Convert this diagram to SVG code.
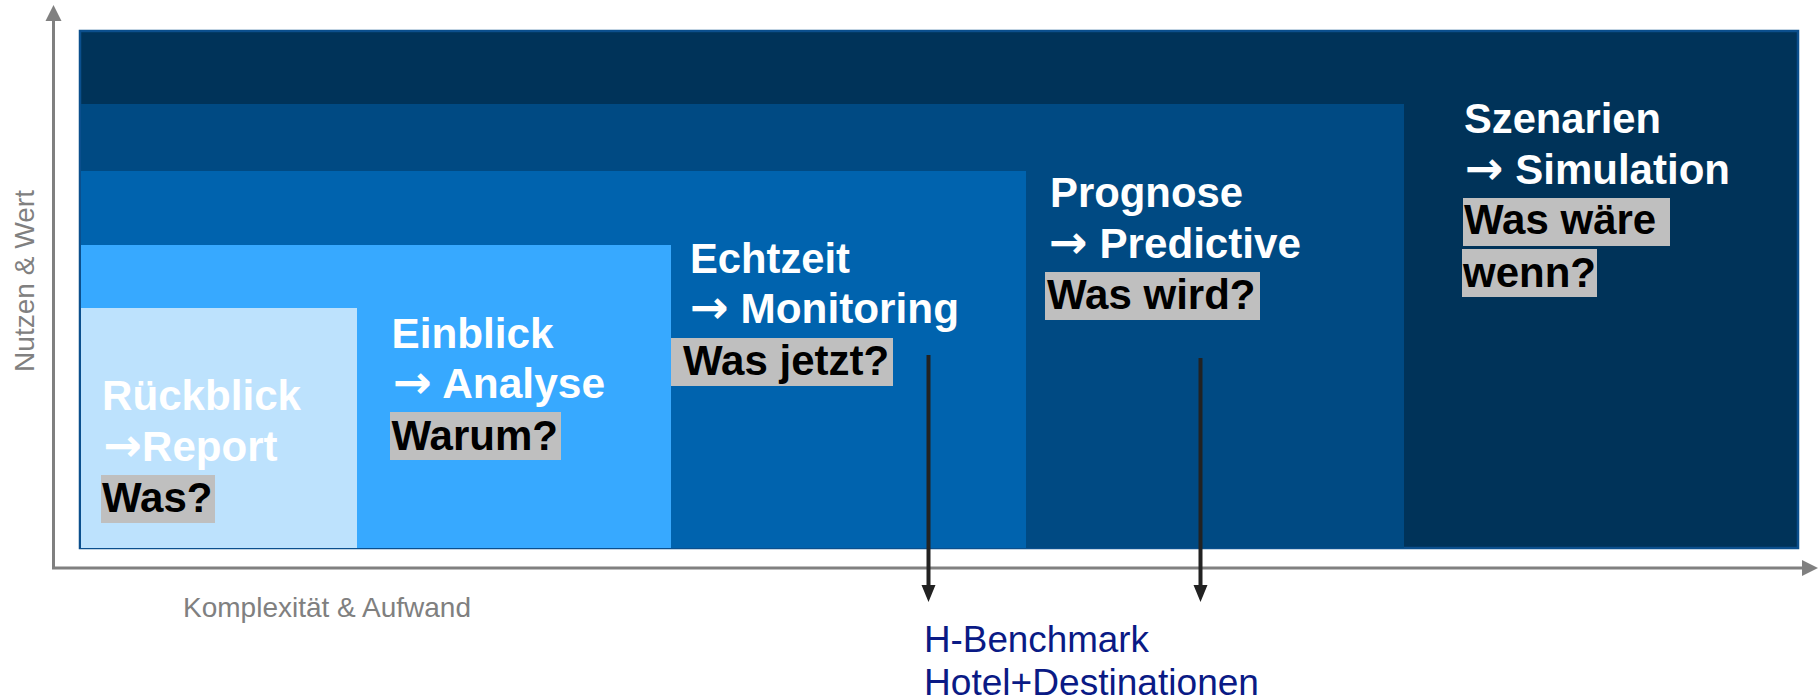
<svg xmlns="http://www.w3.org/2000/svg" width="1818" height="699" viewBox="0 0 1818 699">
<defs>
<style>
.w{font-family:"Liberation Sans",Arial,sans-serif;font-weight:bold;font-size:42px;fill:#ffffff}
.b{font-family:"Liberation Sans",Arial,sans-serif;font-weight:bold;font-size:42px;fill:#000000}
.ar{font-family:"DejaVu Sans",sans-serif;font-weight:bold;font-size:46px}
.hl{fill:#bfbfbf}
.ax{font-family:"Liberation Sans",Arial,sans-serif;font-size:28px;fill:#808080}
.bm{font-family:"Liberation Sans",Arial,sans-serif;font-size:37px;fill:#0a1a85}
.axis{stroke:#808080;stroke-width:3;fill:none}
.conn{stroke:#222222;stroke-width:4;fill:none}
</style>
</defs>

<g id="axes">
<line class="axis" x1="53.5" y1="568" x2="53.5" y2="20"/>
<polygon points="53.5,5 45.5,21 61.5,21" fill="#808080"/>
<line class="axis" x1="52" y1="568" x2="1803" y2="568"/>
<polygon points="1818,568 1802,560 1802,576" fill="#808080"/>
<text class="ax" transform="translate(33.5,372) rotate(-90)" textLength="182" lengthAdjust="spacingAndGlyphs">Nutzen &amp; Wert</text>
<text class="ax" x="183" y="616.5" textLength="288" lengthAdjust="spacingAndGlyphs">Komplexität &amp; Aufwand</text>
</g>

<g id="szenarien">
<rect x="80" y="31" width="1718" height="517" fill="#003359" stroke="#0b4f8d" stroke-width="2.5"/>
<text class="w" x="1464" y="133" textLength="197" lengthAdjust="spacingAndGlyphs">Szenarien</text>
<text class="w" x="1465" y="184" textLength="265" lengthAdjust="spacingAndGlyphs"><tspan class="ar">→</tspan> Simulation</text>
<rect class="hl" x="1463" y="198" width="207" height="48"/>
<text class="b" x="1464" y="234">Was wäre </text>
<rect class="hl" x="1462" y="249" width="135" height="48"/>
<text class="b" x="1463" y="287">wenn?</text>
</g>

<g id="prognose">
<rect x="81" y="104" width="1323" height="444" fill="#004a83"/>
<text class="w" x="1050" y="207" textLength="193" lengthAdjust="spacingAndGlyphs">Prognose</text>
<text class="w" x="1049" y="258" textLength="252" lengthAdjust="spacingAndGlyphs"><tspan class="ar">→</tspan> Predictive</text>
<rect class="hl" x="1045" y="272" width="215" height="48"/>
<text class="b" x="1047" y="309">Was wird?</text>
</g>

<g id="echtzeit">
<rect x="81" y="171" width="945" height="377" fill="#0063ae"/>
<text class="w" x="690" y="273" textLength="160" lengthAdjust="spacingAndGlyphs">Echtzeit</text>
<text class="w" x="690" y="323" textLength="269" lengthAdjust="spacingAndGlyphs"><tspan class="ar">→</tspan> Monitoring</text>
<rect class="hl" x="671" y="338" width="222" height="48"/>
<text class="b" x="683" y="375">Was jetzt?</text>
</g>

<g id="einblick">
<rect x="81" y="245" width="590" height="303" fill="#37a9ff"/>
<text class="w" x="391.5" y="348" textLength="162" lengthAdjust="spacingAndGlyphs">Einblick</text>
<text class="w" x="393" y="398" textLength="212" lengthAdjust="spacingAndGlyphs"><tspan class="ar">→</tspan> Analyse</text>
<rect class="hl" x="390" y="412" width="171" height="48"/>
<text class="b" x="391.5" y="450">Warum?</text>
</g>

<g id="rueckblick">
<rect x="81" y="308" width="276" height="240" fill="#bde2fd"/>
<text class="w" x="102" y="410" textLength="199" lengthAdjust="spacingAndGlyphs">Rückblick</text>
<text class="w" x="103.5" y="461" textLength="174" lengthAdjust="spacingAndGlyphs"><tspan class="ar">→</tspan>Report</text>
<rect class="hl" x="101" y="475" width="114" height="48"/>
<text class="b" x="102" y="512">Was?</text>
</g>

<g id="connectors">
<line class="conn" x1="928.5" y1="355" x2="928.5" y2="588"/>
<polygon points="928.5,602 921.5,585 935.5,585" fill="#222222"/>
<line class="conn" x1="1200.5" y1="358" x2="1200.5" y2="588"/>
<polygon points="1200.5,602 1193.5,585 1207.5,585" fill="#222222"/>
</g>

<g id="benchmark">
<text class="bm" x="924" y="652" textLength="225" lengthAdjust="spacingAndGlyphs">H-Benchmark</text>
<text class="bm" x="924" y="695" textLength="335" lengthAdjust="spacingAndGlyphs">Hotel+Destinationen</text>
</g>
</svg>
